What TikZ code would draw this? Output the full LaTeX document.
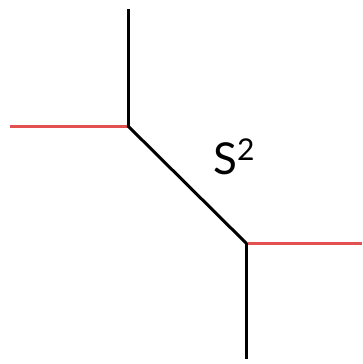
\documentclass[tikz,border=0pt]{standalone}
\usepackage{fontspec}
\setmainfont{Lato}
\definecolor{edgered}{RGB}{226,80,80}
\begin{document}
\begin{tikzpicture}[x=1pt,y=-1pt,
  blackedge/.style={draw=black,line width=3pt},
  rededge/.style={draw=edgered,line width=3pt},
  lbl/.style={font=\fontsize{44}{48}\selectfont,inner sep=0pt}]
\useasboundingbox (0,0) rectangle (362,364);
\coordinate (top) at (128,9);
\coordinate (left) at (10,126);
\coordinate (j1) at (128,126);
\coordinate (j2) at (246,243);
\coordinate (right) at (362,243);
\coordinate (bottom) at (246,359);
\draw[rededge] (left) -- (j1);
\draw[rededge] (j2) -- (right);
\draw[blackedge] (top) -- (j1);
\draw[blackedge] (j2) -- (bottom);
\draw[blackedge,line cap=round] (j1) -- (j2);
\node[lbl] (s2) at (234,157) {S\raisebox{14pt}{\fontsize{30}{32}\selectfont 2}};
\end{tikzpicture}
\end{document}
